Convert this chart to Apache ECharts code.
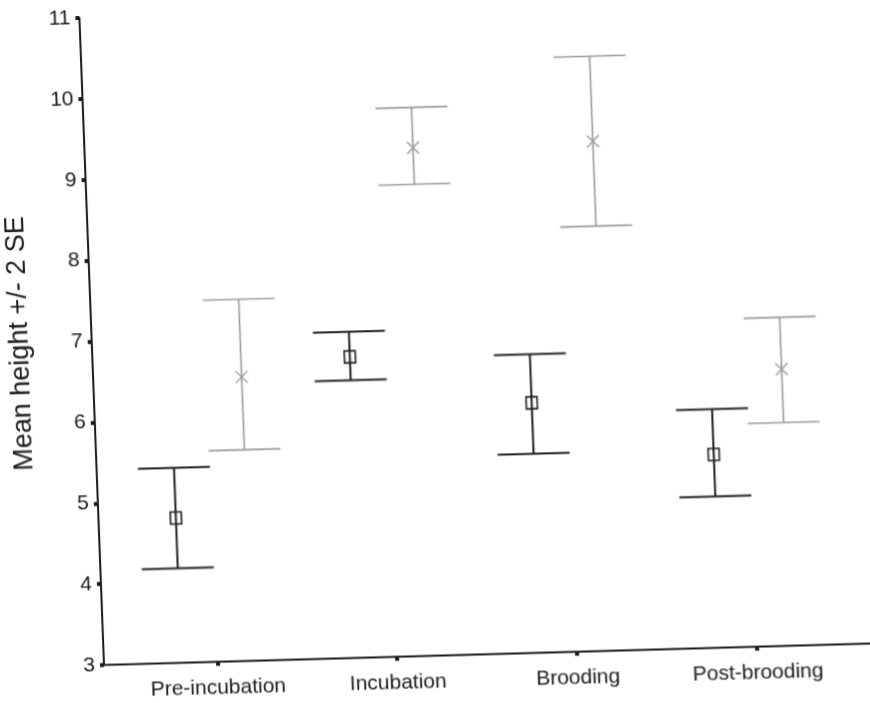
<!DOCTYPE html>
<html>
<head>
<meta charset="utf-8">
<script src="https://cdn.jsdelivr.net/npm/echarts@6/dist/echarts.min.js"></script>
<style>
  html, body { margin: 0; padding: 0; background: #fff; overflow: hidden; }
  #chart {
    width: 900px; height: 703px;
    /* the printed figure sits slightly tilted on the page */
    transform-origin: 103px 665px;
    transform: matrix(1, -0.028, 0.038, 1, 0, 0);
  }
</style>
</head>
<body>
<div id="chart"></div>
<script>
// Nesting stages
const categories = ['Pre-incubation', 'Incubation', 'Brooding', 'Post-brooding'];
const yTicks = [3, 4, 5, 6, 7, 8, 9, 10, 11];

// Group A (dark, square markers): mean height and mean +/- 2 SE
const darkMean = [4.79, 6.72, 6.09, 5.39];
const darkLow  = [4.17, 6.43, 5.46, 4.87];
const darkHigh = [5.41, 7.03, 6.69, 5.95];

// Group B (grey, cross markers): mean height and mean +/- 2 SE
const lightMean = [6.51, 9.28, 9.30, 6.42];
const lightLow  = [5.61, 8.83, 8.25, 5.76];
const lightHigh = [7.47, 9.78, 10.35, 7.06];

const FONT = '"Liberation Sans", Arial, sans-serif';

function toItems(mean, low, high) {
  return mean.map((m, i) => [i + 1, low[i], high[i], m]);
}

function errorBarRenderer(offset, color, width, marker) {
  return function (params, api) {
    const x = api.value(0) + offset;
    const lo = api.coord([x, api.value(1)]);
    const hi = api.coord([x, api.value(2)]);
    const mid = api.coord([x, api.value(3)]);
    const cap = 36;
    const line = { stroke: color, lineWidth: width, fill: null };
    const children = [
      { type: 'line', shape: { x1: hi[0], y1: hi[1], x2: lo[0], y2: lo[1] }, style: line },
      { type: 'line', shape: { x1: hi[0] - cap, y1: hi[1], x2: hi[0] + cap, y2: hi[1] }, style: line },
      { type: 'line', shape: { x1: lo[0] - cap, y1: lo[1], x2: lo[0] + cap, y2: lo[1] }, style: line }
    ];
    if (marker === 'square') {
      children.push({
        type: 'rect',
        shape: { x: mid[0] - 5.5, y: mid[1] - 6, width: 11, height: 12 },
        style: { stroke: color, lineWidth: 1.6, fill: null }
      });
    } else {
      const r = 6;
      children.push({ type: 'line', shape: { x1: mid[0] - r, y1: mid[1] - r, x2: mid[0] + r, y2: mid[1] + r }, style: { stroke: color, lineWidth: 1.4 } });
      children.push({ type: 'line', shape: { x1: mid[0] - r, y1: mid[1] + r, x2: mid[0] + r, y2: mid[1] - r }, style: { stroke: color, lineWidth: 1.4 } });
    }
    return { type: 'group', children: children };
  };
}

const chart = echarts.init(document.getElementById('chart'), null, { renderer: 'canvas' });

chart.setOption({
  backgroundColor: '#ffffff',
  animation: false,
  grid: { left: 104, top: 18, bottom: 38, right: 17 },
  xAxis: {
    type: 'value',
    min: 0.37,
    max: 4.7,
    splitLine: { show: false },
    axisLine: { show: true, onZero: false, lineStyle: { color: '#1a1a1a', width: 2 } },
    axisTick: { show: true, customValues: [1, 2, 3, 4], length: 4, inside: false,
                lineStyle: { color: '#1a1a1a', width: 4 } },
    axisLabel: {
      customValues: [1, 2, 3, 4],
      formatter: v => categories[Math.round(v) - 1] || '',
      margin: 16,
      color: '#1a1a1a',
      fontFamily: FONT,
      fontSize: 21
    }
  },
  yAxis: {
    type: 'value',
    min: yTicks[0],
    max: yTicks[yTicks.length - 1],
    interval: 1,
    name: 'Mean height +/- 2 SE',
    nameLocation: 'middle',
    nameGap: 58,
    nameTextStyle: { color: '#1a1a1a', fontFamily: FONT, fontSize: 27 },
    splitLine: { show: false },
    axisLine: { show: true, lineStyle: { color: '#1a1a1a', width: 2 } },
    axisTick: { show: true, length: 4, lineStyle: { color: '#1a1a1a', width: 4 } },
    axisLabel: { margin: 9, color: '#1a1a1a', fontFamily: FONT, fontSize: 21 }
  },
  series: [
    {
      type: 'custom',
      name: 'Group B',
      data: toItems(lightMean, lightLow, lightHigh),
      renderItem: errorBarRenderer(0.195, '#9a9a9a', 1.6, 'cross'),
      encode: { x: 0, y: [1, 2, 3] },
      z: 2
    },
    {
      type: 'custom',
      name: 'Group A',
      data: toItems(darkMean, darkLow, darkHigh),
      renderItem: errorBarRenderer(-0.2, '#1e1e1e', 2, 'square'),
      encode: { x: 0, y: [1, 2, 3] },
      z: 3
    }
  ]
});
</script>
</body>
</html>
